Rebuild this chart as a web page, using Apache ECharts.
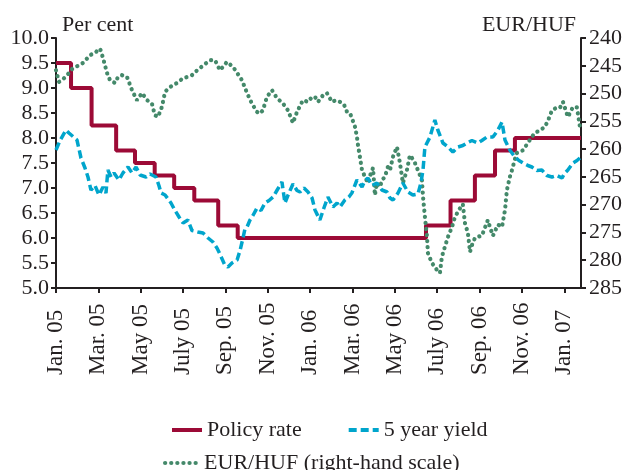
<!DOCTYPE html>
<html>
<head>
<meta charset="utf-8">
<script src="https://cdn.jsdelivr.net/npm/echarts@6/dist/echarts.min.js"></script>
<style>
html,body{margin:0;padding:0;background:#fff;}
#chart{width:627px;height:470px;}
</style>
</head>
<body>
<div id="chart"></div>
<script>
// x positions are months since January 2005
var xTickLabels = ["Jan. 05","Mar. 05","May 05","July 05","Sep. 05","Nov. 05","Jan. 06","Mar. 06","May 06","July 06","Sep. 06","Nov. 06","Jan. 07"];
var xTickMonths = [0,2,4,6,8,10,12,14,16,18,20,22,24];
var xEnd = 24.79;

var policyMonths = [0,0.71,1.68,2.84,3.73,4.66,5.58,6.53,7.66,8.58,17.47,18.63,19.78,20.73,21.67,24.79];
var policyRate   = [9.5,9.0,8.25,7.75,7.5,7.25,7.0,6.75,6.25,6.0,6.25,6.75,7.25,7.75,8.0,8.0];

var yieldMonths = [0.00,0.19,0.47,0.61,0.99,1.18,1.37,1.51,1.65,1.84,2.03,2.22,2.36,2.45,2.60,2.74,2.83,2.97,3.16,3.40,3.59,3.78,3.97,4.25,4.44,4.72,4.86,4.96,5.15,5.43,5.62,5.81,6.00,6.23,6.42,6.70,6.94,7.18,7.41,7.60,7.74,7.98,8.12,8.31,8.55,8.69,8.83,8.92,9.02,9.16,9.30,9.49,9.68,9.87,10.06,10.25,10.43,10.67,10.81,10.95,11.19,11.38,11.52,11.71,11.90,12.09,12.23,12.46,12.65,12.84,13.08,13.27,13.41,13.64,13.83,13.97,14.21,14.45,14.59,14.73,14.92,15.15,15.39,15.63,15.77,15.91,16.15,16.38,16.62,16.85,17.09,17.23,17.33,17.42,17.66,17.89,18.03,18.27,18.51,18.74,18.98,19.21,19.40,19.64,19.92,20.11,20.35,20.63,20.87,21.06,21.20,21.43,21.67,21.86,22.05,22.28,22.47,22.71,22.94,23.18,23.42,23.65,23.89,24.03,24.17,24.41,24.60,24.79];
var yieldValues = [7.76,7.95,8.16,8.10,7.96,7.60,7.40,7.22,6.96,7.05,6.86,7.02,6.90,7.36,7.22,7.30,7.28,7.16,7.30,7.42,7.30,7.42,7.26,7.22,7.28,7.22,7.05,6.90,6.86,6.70,6.55,6.42,6.30,6.36,6.15,6.12,6.10,6.00,5.92,5.80,5.68,5.45,5.42,5.50,5.56,5.75,6.00,6.18,6.22,6.36,6.45,6.60,6.55,6.70,6.75,6.82,6.95,7.12,6.70,6.85,7.08,6.95,6.92,7.00,6.92,6.80,6.56,6.36,6.60,6.82,6.62,6.70,6.62,6.76,6.82,6.90,7.16,7.02,7.15,7.20,7.05,7.10,6.96,6.92,6.80,6.76,6.90,7.10,6.92,6.86,6.88,7.10,7.36,7.82,8.02,8.36,8.16,7.90,7.82,7.72,7.82,7.85,7.90,7.95,7.90,7.95,8.02,8.02,8.16,8.32,7.96,7.76,7.62,7.55,7.50,7.45,7.42,7.35,7.36,7.25,7.22,7.25,7.20,7.30,7.36,7.50,7.55,7.62];

var eurHufMonths = [0.00,0.14,0.28,0.52,0.80,1.04,1.27,1.61,1.89,2.08,2.22,2.41,2.55,2.79,2.93,3.12,3.35,3.59,3.82,4.06,4.30,4.53,4.67,4.82,5.00,5.15,5.33,5.52,5.76,6.00,6.23,6.42,6.61,6.80,7.03,7.27,7.51,7.74,7.93,8.07,8.36,8.59,8.78,9.02,9.25,9.49,9.63,9.77,9.96,10.20,10.43,10.72,10.95,11.19,11.33,11.42,11.66,11.90,12.09,12.23,12.37,12.61,12.79,13.03,13.22,13.41,13.60,13.74,13.88,13.97,14.12,14.21,14.26,14.35,14.45,14.59,14.73,14.87,14.97,15.06,15.15,15.30,15.39,15.53,15.67,15.77,15.91,16.10,16.24,16.38,16.57,16.71,16.85,16.95,17.09,17.28,17.33,17.42,17.52,17.56,17.75,17.89,17.99,18.13,18.22,18.36,18.51,18.70,18.84,19.07,19.21,19.31,19.45,19.55,19.64,19.78,19.88,20.11,20.25,20.39,20.49,20.63,20.87,21.06,21.20,21.29,21.43,21.53,21.67,21.76,21.91,22.05,22.28,22.47,22.61,22.85,23.09,23.27,23.42,23.61,23.79,23.94,24.03,24.17,24.27,24.41,24.60,24.74];
var eurHufValues = [245.8,247.9,247.6,246.7,245.4,245.0,244.5,243.1,242.5,241.9,243.6,246.3,247.6,248.1,247.0,246.7,247.0,249.4,251.2,249.9,251.2,251.8,253.9,254.2,252.4,249.7,249.0,248.5,248.0,247.2,247.0,246.7,246.0,245.4,244.7,244.0,244.0,245.8,245.0,244.3,245.2,246.5,247.6,249.9,251.8,253.3,253.6,253.0,250.6,249.4,250.8,251.8,253.0,255.3,253.8,253.0,251.2,251.5,250.6,250.6,251.5,250.3,249.9,251.5,251.2,251.5,252.0,253.3,253.5,254.4,256.0,257.8,259.3,261.4,263.8,265.0,266.1,264.3,263.4,268.3,266.1,266.8,265.6,265.0,263.2,263.8,261.4,259.6,262.5,266.1,263.8,261.1,261.8,262.5,263.8,265.6,268.6,272.2,275.8,278.7,280.5,281.2,281.8,282.3,279.4,277.6,275.8,274.0,272.2,270.7,269.9,273.3,275.1,278.5,277.3,276.0,275.8,275.6,274.2,272.8,274.0,275.6,273.6,274.0,271.0,267.4,265.0,263.8,261.8,260.7,260.5,260.2,258.9,257.8,257.1,256.6,256.0,254.5,253.0,252.6,252.6,251.5,251.5,254.2,253.5,252.4,252.5,256.0];

function zip(a, b) { return a.map(function (v, i) { return [v, b[i]]; }); }

var FONT = 'Liberation Serif';
var INK = '#231F20';
var RED = '#9C0A36', BLUE = '#00A5CC', GREEN = '#44896A';

var chart = echarts.init(document.getElementById('chart'), null, {renderer: 'canvas'});
chart.setOption({
  animation: false,
  backgroundColor: '#ffffff',
  textStyle: {fontFamily: FONT, color: INK},
  title: [
    {text: 'Per cent', left: 57, top: 9, textStyle: {fontFamily: FONT, fontSize: 22, fontWeight: 'normal', color: INK}},
    {text: 'EUR/HUF', right: 46, top: 9, textStyle: {fontFamily: FONT, fontSize: 22, fontWeight: 'normal', color: INK}}
  ],
  grid: {left: 56, right: 46, top: 38, bottom: 182, containLabel: false},
  legend: [
    {data: ['Policy rate', '5 year yield'], left: 165, top: 414, itemWidth: 30, itemHeight: 14, itemGap: 45,
     itemStyle: {opacity: 0}, lineStyle: {width: 4},
     textStyle: {fontFamily: FONT, fontSize: 22, color: INK}},
    {data: ['EUR/HUF (right-hand scale)'], left: 158, top: 447, itemWidth: 34, itemHeight: 14,
     itemStyle: {opacity: 0}, lineStyle: {width: 4.2, cap: 'round'},
     textStyle: {fontFamily: FONT, fontSize: 22, color: INK}}
  ],
  xAxis: {
    type: 'value', min: 0, max: xEnd, interval: 2,
    axisLine: {show: true, lineStyle: {color: INK, width: 2}},
    axisTick: {show: true, length: 5, lineStyle: {color: INK, width: 2}, customValues: xTickMonths},
    splitLine: {show: false},
    axisLabel: {
      rotate: 90, margin: 87, align: 'left', verticalAlign: 'middle', fontFamily: FONT, fontSize: 23, color: INK,
      customValues: xTickMonths,
      formatter: function (v) { var i = xTickMonths.indexOf(Math.round(v)); return i >= 0 ? xTickLabels[i] : ''; }
    }
  },
  yAxis: [
    {
      type: 'value', min: 5, max: 10, interval: 0.5, position: 'left',
      axisLine: {show: true, lineStyle: {color: INK, width: 2}},
      axisTick: {show: true, length: 5, lineStyle: {color: INK, width: 2}},
      splitLine: {show: false},
      axisLabel: {margin: 7, fontFamily: FONT, fontSize: 22, color: INK, formatter: function (v) { return v.toFixed(1); }}
    },
    {
      type: 'value', min: 240, max: 285, interval: 5, position: 'right', inverse: true,
      axisLine: {show: true, lineStyle: {color: INK, width: 2}},
      axisTick: {show: true, length: 5, lineStyle: {color: INK, width: 2}},
      splitLine: {show: false},
      axisLabel: {margin: 8, fontFamily: FONT, fontSize: 22, color: INK}
    }
  ],
  series: [
    {name: 'Policy rate', type: 'line', step: 'end', yAxisIndex: 0, symbol: 'none', z: 3,
     data: zip(policyMonths, policyRate), lineStyle: {color: RED, width: 4}, itemStyle: {color: RED}},
    {name: 'EUR/HUF (right-hand scale)', type: 'line', yAxisIndex: 1, symbol: 'none', z: 4,
     data: zip(eurHufMonths, eurHufValues),
     lineStyle: {color: GREEN, width: 4.2, type: [0.1, 6], cap: 'round'}, itemStyle: {color: GREEN}},
    {name: '5 year yield', type: 'line', yAxisIndex: 0, symbol: 'none', z: 5,
     data: zip(yieldMonths, yieldValues),
     lineStyle: {color: BLUE, width: 3.5, type: [8, 4]}, itemStyle: {color: BLUE}}
  ]
});
</script>
</body>
</html>
